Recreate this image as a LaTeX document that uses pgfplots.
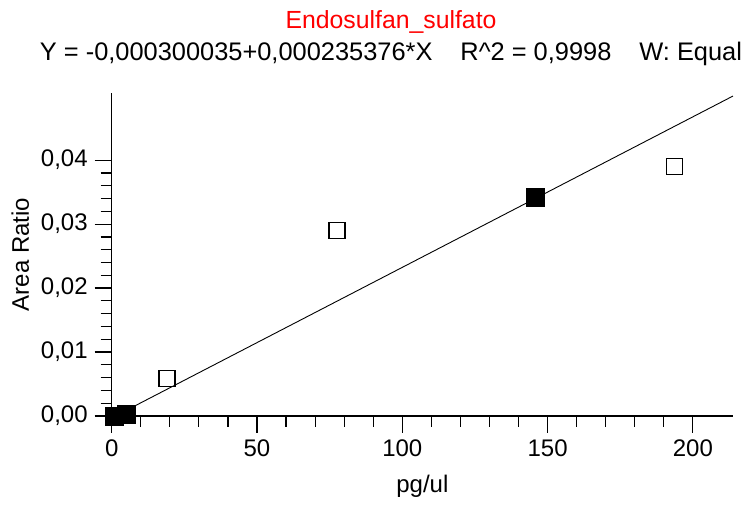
\documentclass[border=0pt]{standalone}
\usepackage{fontspec}
\setmainfont{Liberation Sans}
\usepackage{pgfplots}
\pgfplotsset{compat=1.18}
\definecolor{titlered}{RGB}{255,0,0}

\begin{document}
\begin{tikzpicture}
\path[use as bounding box] (0,0) rectangle (373pt,253pt);
% titles
\node[font=\fontsize{12.4}{14}\selectfont, text=titlered] at (195.5pt,242pt) {Endosulfan\_sulfato};
\node[font=\fontsize{12.7}{15}\selectfont] at (195.5pt,226pt)
  {Y = -0,000300035+0,000235376*X\hspace{1.1em}R\textasciicircum 2 = 0,9998\hspace{1.1em}W: Equal};
\begin{axis}[
  at={(55.85pt,45pt)}, anchor=south west,
  scale only axis, width=310.65pt, height=161.5pt,
  xmin=0, xmax=213.8, ymin=0, ymax=0.0505,
  axis lines*=left, clip=false,
  axis line style={line width=0.8pt},
  tick align=outside,
  major tick length=8.5pt, minor tick length=5.5pt,
  every tick/.style={black, line width=0.6pt},
  xtick={0,50,100,150,200}, minor x tick num=4,
  ytick={0,0.01,0.02,0.03,0.04}, minor y tick num=4,
  scaled y ticks=false,
  /pgf/number format/assume math mode=true,
  yticklabel style={/pgf/number format/.cd, use comma, fixed, fixed zerofill, precision=2},
  ticklabel style={font=\fontsize{12}{14}\selectfont},
  label style={font=\fontsize{12}{14}\selectfont},
  xlabel={pg/ul}, ylabel={Area Ratio},
  xlabel style={yshift=-2pt},
  ylabel style={yshift=-1pt},
]
% regression line, end points only
\addplot[black, line width=0.45pt, forget plot] coordinates {(0,-0.000300) (213.8,0.050024)};
% points used in the fit
\addplot[only marks, mark=square*, mark size=4.5pt, mark options={fill=black, draw=black}] coordinates {
  (1,0.0000) (5,0.0002) (145.8,0.0341)
};
% excluded points
\addplot[only marks, mark=square, mark size=4pt, mark options={draw=black, line width=0.6pt, fill=white}] coordinates {
  (19,0.0059) (77.5,0.0290) (193.7,0.0390)
};
\end{axis}
\end{tikzpicture}
\end{document}
